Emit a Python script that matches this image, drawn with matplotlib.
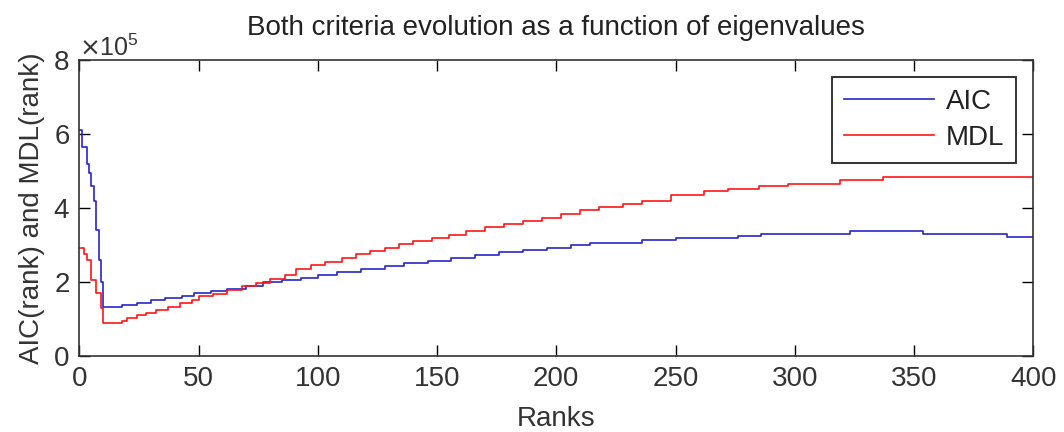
import numpy as np
import matplotlib
matplotlib.use('Agg')
import matplotlib.pyplot as plt
from matplotlib.ticker import ScalarFormatter

plt.rcParams['font.family'] = ['Liberation Sans', 'DejaVu Sans']

# AIC breakpoints (rank, value) - step curve
aic_rank = [0, 1, 3, 4, 5, 6, 7, 8, 9, 10, 18, 24, 30, 36, 43, 48, 55, 62, 70, 77,
            85, 93, 100, 108, 118, 128, 136, 146, 156, 166, 176, 186, 196, 206,
            214, 236, 250, 276, 286, 323, 354, 389, 400]
aic_val = [6.1, 5.65, 5.2, 4.95, 4.6, 4.2, 3.4, 2.6, 2.0, 1.32, 1.38, 1.43, 1.5, 1.56,
           1.62, 1.7, 1.75, 1.82, 1.9, 2.0, 2.06, 2.12, 2.2, 2.28, 2.35, 2.42, 2.5,
           2.57, 2.64, 2.72, 2.8, 2.86, 2.93, 3.0, 3.06, 3.13, 3.2, 3.25, 3.3, 3.38,
           3.3, 3.22, 3.22]

# MDL breakpoints
mdl_rank = [0, 2, 3, 5, 7, 9, 10, 18, 20, 24, 28, 32, 37, 42, 47, 50, 56, 62, 68, 74,
            80, 86, 91, 97, 103, 110, 116, 122, 128, 134, 140, 148, 155, 162, 170,
            178, 186, 194, 202, 210, 218, 228, 236, 248, 262, 272, 285, 297, 319,
            337, 400]
mdl_val = [2.92, 2.75, 2.6, 2.05, 1.7, 1.3, 0.88, 0.95, 1.03, 1.1, 1.17, 1.25, 1.32,
           1.43, 1.52, 1.62, 1.68, 1.78, 1.88, 1.97, 2.08, 2.2, 2.35, 2.45, 2.55,
           2.65, 2.75, 2.83, 2.92, 3.02, 3.12, 3.2, 3.28, 3.38, 3.48, 3.58, 3.66,
           3.74, 3.85, 3.95, 4.03, 4.12, 4.2, 4.35, 4.45, 4.52, 4.6, 4.66, 4.75,
           4.83, 4.83]

scale = 1e5

fig = plt.figure(figsize=(10.64, 4.32), dpi=100)
ax = fig.add_axes([0.0747, 0.176, 0.8963, 0.685])

ax.plot(aic_rank, np.array(aic_val) * scale, color='#2525cc', lw=1.2,
        drawstyle='steps-post', label='AIC')
ax.plot(mdl_rank, np.array(mdl_val) * scale, color='#ff1515', lw=1.2,
        drawstyle='steps-post', label='MDL')

ax.set_xlim(0, 400)
ax.set_ylim(0, 8e5)
ax.set_xticks(np.arange(0, 401, 50))
ax.set_yticks(np.arange(0, 8.01e5, 2e5))

fmt = ScalarFormatter(useMathText=True)
fmt.set_powerlimits((0, 0))
ax.yaxis.set_major_formatter(fmt)
ax.yaxis.get_offset_text().set_fontsize(18)
ax.yaxis.get_offset_text().set_color('#333333')

ax.tick_params(direction='in', length=8, width=1, top=True, right=True,
               labelsize=20, labelcolor='#333333', pad=7)
for s in ax.spines.values():
    s.set_color('#333333')
    s.set_linewidth(1.2)

ax.set_xlabel('Ranks', fontsize=20, color='#333333', labelpad=10)
ax.set_ylabel('AIC(rank) and MDL(rank)', fontsize=20, color='#333333', labelpad=6)
ax.set_title('Both criteria evolution as a function of eigenvalues', fontsize=20,
             color='#222222', pad=18)

leg = ax.legend(loc='upper right', fontsize=20, fancybox=False, framealpha=1,
                edgecolor='#222222', handlelength=3.25, handletextpad=0.4,
                borderaxespad=0.6, labelspacing=0.35, borderpad=0.45)
leg.get_frame().set_linewidth(1.3)
for t in leg.get_texts():
    t.set_color('#222222')

fig.savefig('out.png', dpi=100)
